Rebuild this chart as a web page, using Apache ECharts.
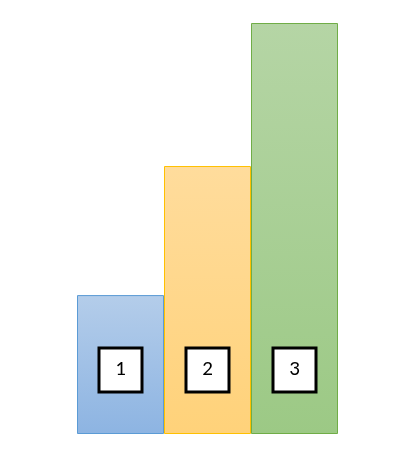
<!DOCTYPE html>
<html><head><meta charset="utf-8">
<script src="https://cdn.jsdelivr.net/npm/echarts@6/dist/echarts.min.js"></script>
<style>html,body{margin:0;padding:0;background:#fff}#c{width:407px;height:461px}</style>
</head><body><div id="c"></div>
<script>
const categories = ['1', '2', '3'];
const values = [33.8, 65.2, 100];
const labels = ['1', '2', '3'];
const topColors = ['#b4cdea', '#ffdc9c', '#b5d5a5'];
const bottomColors = ['#8db4e2', '#ffd27a', '#9cc985'];
const borderColors = ['#5b9bd5', '#ffc000', '#70ad47'];

const chart = echarts.init(document.getElementById('c'));
chart.setOption({
  animation: false,
  grid: {left: 77, right: 69, top: 23, bottom: 27},
  xAxis: {type: 'category', data: categories, show: false},
  yAxis: {type: 'value', min: 0, max: 100, show: false},
  series: [{
    type: 'bar',
    barCategoryGap: 0,
    data: values.map((v, i) => ({
      value: v,
      itemStyle: {
        color: new echarts.graphic.LinearGradient(0, 0, 0, 1, [
          {offset: 0, color: topColors[i]}, {offset: 1, color: bottomColors[i]}
        ]),
        borderColor: borderColors[i],
        borderWidth: 1,
        opacity: 1
      },
      label: {formatter: labels[i]}
    })),
    label: {
      show: true,
      position: 'insideBottom',
      distance: 43,
      offset: [0, -21],
      color: '#000',
      fontFamily: 'Calibri, Carlito, "Liberation Sans", sans-serif',
      fontSize: 21,
      backgroundColor: '#fff',
      borderColor: '#000',
      borderWidth: 3,
      width: 40,
      height: 41,
      align: 'center',
      verticalAlign: 'middle',
      lineHeight: 41,
      padding: 0
    }
  }]
});
</script></body></html>
